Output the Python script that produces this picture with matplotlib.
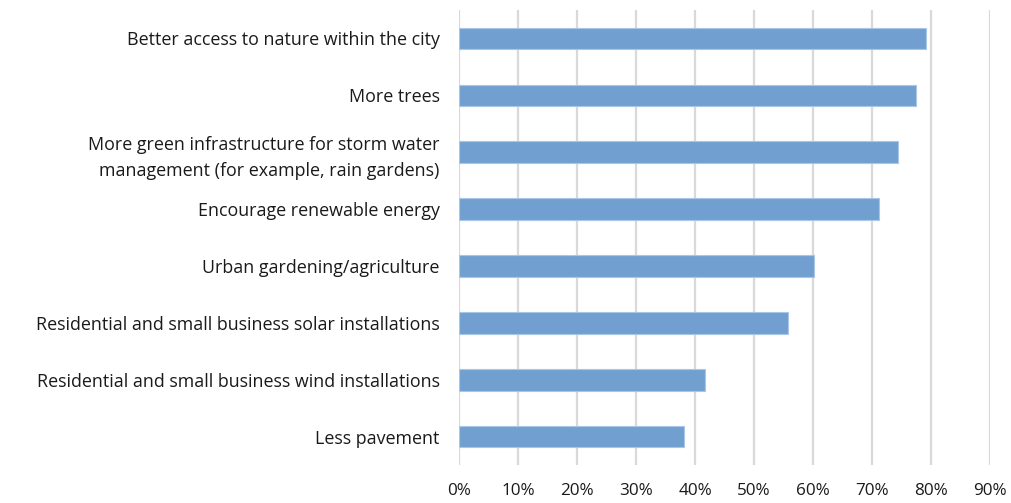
"""
    plot.py
        -- green city priorities, horizontal bar chart
"""
import matplotlib.pyplot as plt
from matplotlib.ticker import PercentFormatter

labels = [
    "Better access to nature within the city",
    "More trees",
    "More green infrastructure for storm water\nmanagement (for example, rain gardens)",
    "Encourage renewable energy",
    "Urban gardening/agriculture",
    "Residential and small business solar installations",
    "Residential and small business wind installations",
    "Less pavement",
]
shares = [0.791, 0.774, 0.744, 0.711, 0.601, 0.558, 0.417, 0.381]
xticks = [0.0, 0.1, 0.2, 0.3, 0.4, 0.5, 0.6, 0.7, 0.8, 0.9]

plt.rcParams["font.family"] = ["Open Sans", "DejaVu Sans"]

fig = plt.figure(figsize=(10.12, 5.03), dpi=100)
ax = fig.add_axes([0.4536, 0.0755, 0.5247, 0.9046])

pos = list(range(len(labels)))
ax.barh(pos, shares, height=0.38, color="#71a0d0", edgecolor="#a9c6e6",
        linewidth=0.8, zorder=3)

ax.set_ylim(len(labels) - 0.5, -0.5)
ax.set_yticks(pos)
ax.set_yticklabels(labels, fontsize=12.9, linespacing=1.55)
ax.set_xlim(0, 0.9)
ax.set_xticks(xticks)
ax.xaxis.set_major_formatter(PercentFormatter(1.0, decimals=0))
ax.tick_params(axis="y", length=0, pad=14, labelcolor="#1a1a1a")
ax.tick_params(axis="x", length=0, pad=13, labelsize=12.3, labelcolor="#1a1a1a")
ax.grid(axis="x", color="#d9d9d9", linewidth=1.6, zorder=0)
for s in ax.spines.values():
    s.set_visible(False)

plt.savefig("out.png", dpi=100)
plt.close("all")
